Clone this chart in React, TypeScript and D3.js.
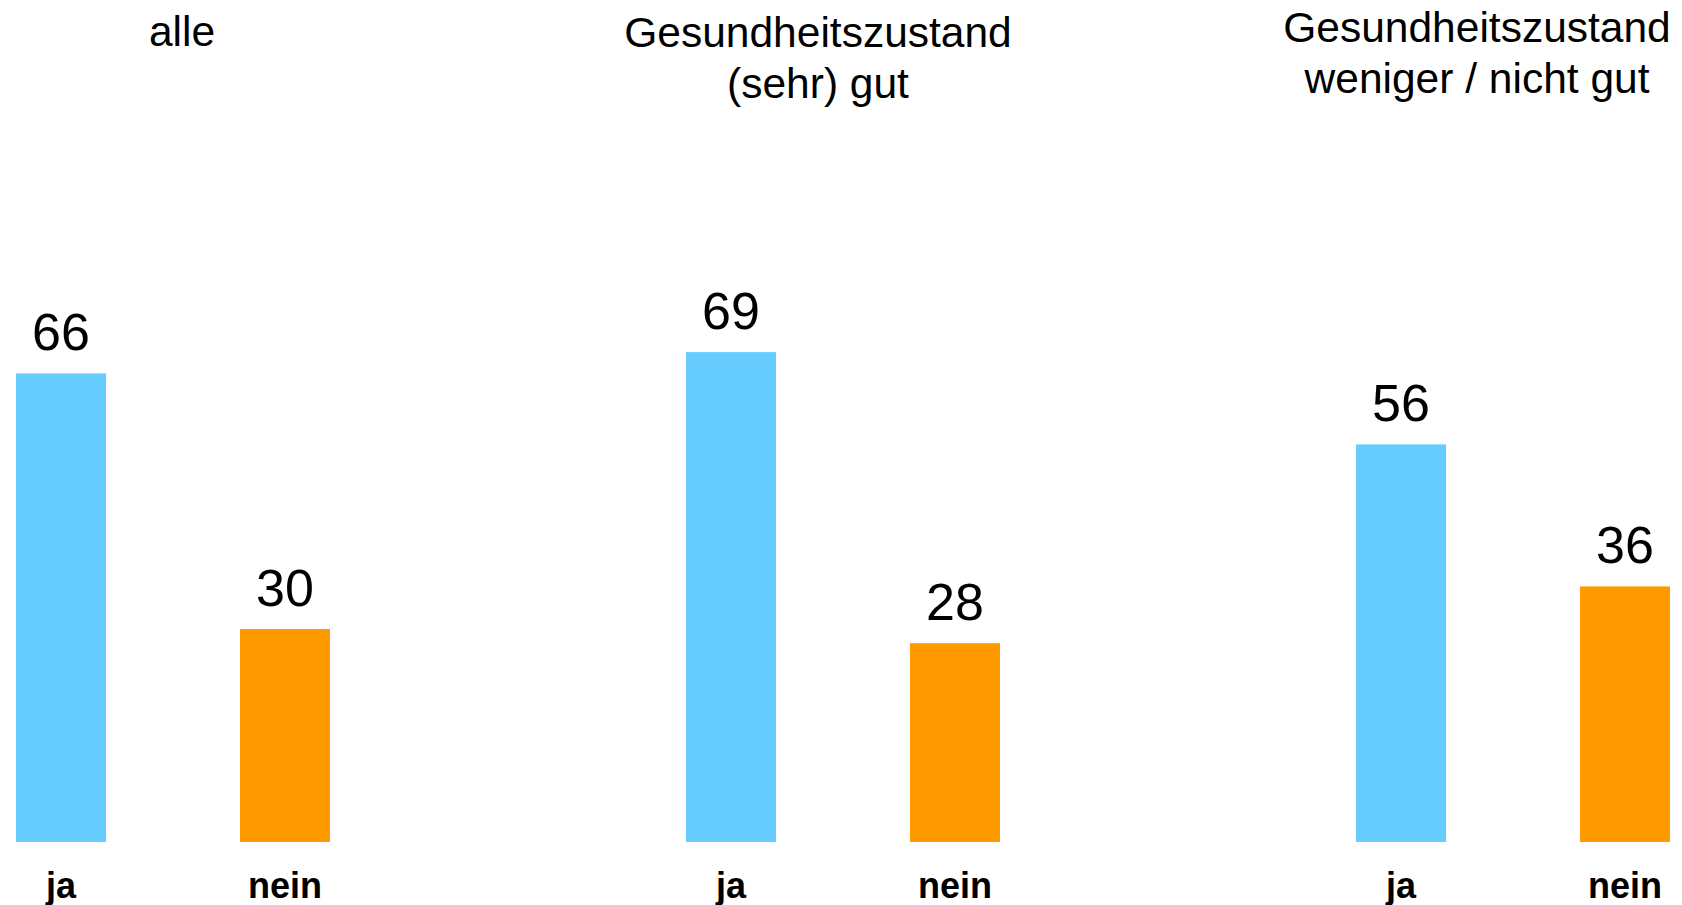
import React from 'react'
import * as d3 from 'd3'

// groups, answer categories and the values (percent)
const groups = ['alle', 'gut', 'schlecht']
const titles = [['alle'], ['Gesundheitszustand', '(sehr) gut'], ['Gesundheitszustand', 'weniger / nicht gut']]
const answers = ['ja', 'nein']
const jaValues = [66, 69, 56]
const neinValues = [30, 28, 36]

const colors = { ja: '#66CCFF', nein: '#FF9900' }
const font = '"Liberation Sans", Arial, Helvetica, sans-serif'

const W = 1682
const H = 905
const base = 842

// small per-title nudges (titles aren't exactly centred over their bars)
const titleCenter = [166, 132, 121]
const titleTop = [46, 47, 42]

export default function App() {
  const x0 = d3.scaleBand().domain(groups).range([16, 16 + 670 * 3]).paddingInner(0)
  const x1 = d3.scaleBand().domain(answers).range([0, 314]).paddingInner(0.598).paddingOuter(0)
  const y = d3.scaleLinear().domain([0, 100]).range([base, 132])

  const rows = groups.map((g, i) => ({
    group: g,
    i,
    values: [
      { key: 'ja', value: jaValues[i] },
      { key: 'nein', value: neinValues[i] }
    ]
  }))

  return (
    <svg width={W} height={H} style={{ position: 'absolute', left: 0, top: 0, background: '#fff' }}>
      {rows.map(r => (
        <g key={r.group} transform={`translate(${x0(r.group)},0)`}>
          {titles[r.i].map((line, j) => (
            <text
              key={j}
              x={titleCenter[r.i]}
              y={titleTop[r.i] + j * 51}
              textAnchor="middle"
              fontFamily={font}
              fontSize={42.5}
              fill="#000"
            >
              {line}
            </text>
          ))}
          {r.values.map(d => {
            const bx = x1(d.key)
            const bw = x1.bandwidth()
            return (
              <g key={d.key}>
                <rect x={bx} y={y(d.value)} width={bw} height={base - y(d.value)} fill={colors[d.key]} />
                <text
                  x={bx + bw / 2}
                  y={y(d.value) - 23}
                  textAnchor="middle"
                  fontFamily={font}
                  fontSize={52}
                  fill="#000"
                >
                  {d.value}
                </text>
                <text
                  x={bx + bw / 2}
                  y={898}
                  textAnchor="middle"
                  fontFamily={font}
                  fontSize={36}
                  fontWeight="bold"
                  fill="#000"
                >
                  {d.key}
                </text>
              </g>
            )
          })}
        </g>
      ))}
    </svg>
  )
}
